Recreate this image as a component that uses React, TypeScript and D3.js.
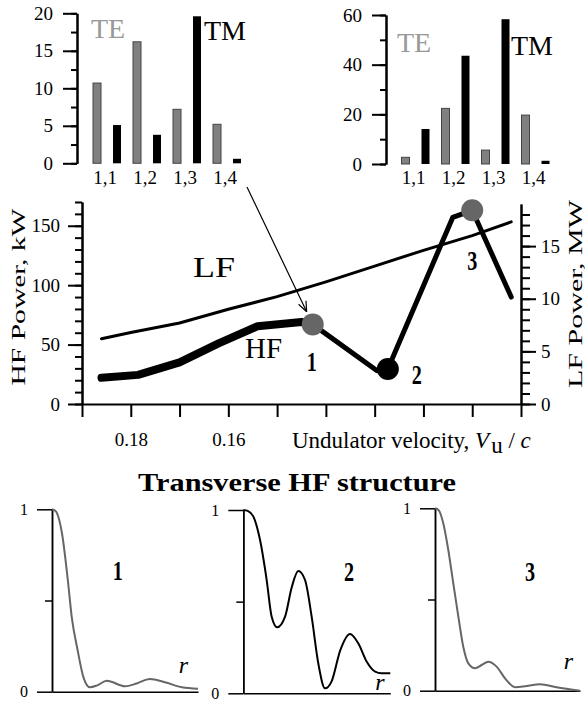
import React, { useEffect, useRef } from 'react'
import * as d3 from 'd3'

const W = 585
const H = 705
const FONT = "'Liberation Serif', 'Times New Roman', serif"
const GREY = '#666'

// mode content of the two marked points (top insets)
const modeCats = ['1,1', '1,2', '1,3', '1,4']
const modeTypes = ['TE', 'TM']
const teLeft = [10.7, 16.2, 7.2, 5.2]
const tmLeft = [5.1, 3.8, 19.6, 0.6]
const teRight = [2.7, 22.4, 5.6, 19.7]
const tmRight = [14.1, 43.6, 58.3, 1.3]

// main chart: power vs undulator velocity
const velTicks = [0.19, 0.18, 0.17, 0.16, 0.15, 0.14, 0.13, 0.12, 0.11, 0.10]
const velLabels = ['0.18', '0.16']
const lfVel = [0.186, 0.18, 0.17, 0.16, 0.15, 0.14, 0.13, 0.12, 0.11, 0.102]
const lfPower = [6.2, 6.8, 7.7, 9.0, 10.2, 11.6, 13.1, 14.6, 16.0, 17.3]
const hfVel = [0.186, 0.1785, 0.17, 0.162, 0.154, 0.145, 0.1427, 0.1295, 0.1273, 0.114, 0.11, 0.102]
const hfPower = [22, 24.5, 35, 51, 65.5, 69, 67, 28, 29.5, 157, 163, 90]
const pointVel = [0.1427, 0.1273, 0.11]
const pointPower = [67, 29.5, 163]
const pointNames = ['1', '2', '3']
const pointColors = [GREY, '#000', GREY]

// transverse profiles (r normalised 0..1)
const prof1R = [0, 0.025, 0.068, 0.11, 0.135, 0.175, 0.215, 0.26, 0.31, 0.375, 0.5, 0.58, 0.67, 0.78, 0.89, 1.0]
const prof1I = [1, 0.99, 0.87, 0.6, 0.41, 0.23, 0.08, 0.024, 0.035, 0.06, 0.03, 0.045, 0.07, 0.05, 0.024, 0.016]
const prof2R = [0, 0.03, 0.068, 0.114, 0.159, 0.193, 0.231, 0.284, 0.33, 0.374, 0.42, 0.465, 0.51, 0.556, 0.6, 0.66, 0.726, 0.782, 0.84, 0.897, 0.94, 1.0]
const prof2I = [1, 0.995, 0.965, 0.836, 0.618, 0.418, 0.36, 0.418, 0.58, 0.667, 0.618, 0.418, 0.164, 0.027, 0.064, 0.236, 0.324, 0.273, 0.172, 0.118, 0.109, 0.109]
const prof3R = [0, 0.025, 0.057, 0.092, 0.126, 0.161, 0.195, 0.23, 0.276, 0.322, 0.368, 0.425, 0.483, 0.552, 0.632, 0.724, 0.839, 1.0]
const prof3I = [1, 0.99, 0.918, 0.77, 0.589, 0.406, 0.241, 0.15, 0.123, 0.141, 0.159, 0.132, 0.068, 0.019, 0.026, 0.035, 0.019, 0]

function styleAxis(g: any, size: number, width: number) {
  g.attr('font-family', FONT).attr('font-size', size)
  g.selectAll('path, line').attr('stroke', '#000').attr('stroke-width', width)
  g.selectAll('text').attr('fill', '#000')
}

function drawInset(svg: any, axisX: number, y0: number, y1: number, max: number, major: number, minor: number,
  te: number[], tm: number[], bandStart: number) {
  const g = svg.append('g')
  const y = d3.scaleLinear().domain([0, max]).range([y0, y1])
  const xb = d3.scaleBand().domain(modeCats).range([bandStart, bandStart + 160])
  const xi = d3.scaleBand().domain(modeTypes).range([0, xb.bandwidth()]).paddingInner(0.6).paddingOuter(0.3)

  g.append('g').attr('transform', `translate(${axisX},0)`)
    .call(d3.axisLeft(y).tickValues(d3.range(0, max + 1e-6, minor)).tickSize(6).tickSizeOuter(0).tickFormat(() => ''))
    .call((a: any) => styleAxis(a, 19, 2))
  g.append('g').attr('transform', `translate(${axisX},0)`)
    .call(d3.axisLeft(y).tickValues(d3.range(0, max + 1e-6, major)).tickSize(14).tickSizeOuter(0).tickPadding(10))
    .call((a: any) => styleAxis(a, 19, 2))

  g.selectAll('rect.te').data(te).join('rect')
    .attr('x', (d: number, i: number) => xb(modeCats[i])! + xi('TE')!)
    .attr('y', (d: number) => y(d))
    .attr('width', xi.bandwidth())
    .attr('height', (d: number) => y(0) - y(d))
    .attr('fill', '#808080').attr('stroke', '#444').attr('stroke-width', 1)
  g.selectAll('rect.tm').data(tm).join('rect')
    .attr('x', (d: number, i: number) => xb(modeCats[i])! + xi('TM')!)
    .attr('y', (d: number) => y(d))
    .attr('width', xi.bandwidth())
    .attr('height', (d: number) => y(0) - y(d))
    .attr('fill', '#000')

  g.selectAll('text.cat').data(modeCats).join('text')
    .attr('x', (c: string) => xb(c)! + xb.bandwidth() / 2 - 2)
    .attr('y', 184)
    .attr('text-anchor', 'middle')
    .attr('font-family', FONT).attr('font-size', 19)
    .text((c: string) => c)
  return xb
}

function drawProfile(svg: any, x0: number, yTop: number, yBot: number, w: number, rs: number[], vals: number[],
  color: string, name: string, namePos: number[], rPos: number[]) {
  const g = svg.append('g')
  const x = d3.scaleLinear().domain([0, 1]).range([x0, x0 + w])
  const y = d3.scaleLinear().domain([0, 1]).range([yBot, yTop])
  g.append('g').attr('transform', `translate(${x0},0)`)
    .call(d3.axisLeft(y).tickValues([0.5]).tickSize(7).tickSizeOuter(0).tickFormat(() => ''))
    .call((a: any) => styleAxis(a, 16, 1.5))
  g.append('g').attr('transform', `translate(${x0},0)`)
    .call(d3.axisLeft(y).tickValues([0, 1]).tickSize(15).tickSizeOuter(0).tickPadding(9).tickFormat(d3.format('d')))
    .call((a: any) => styleAxis(a, 16, 1.5))
  g.append('g').attr('transform', `translate(0,${yBot})`)
    .call(d3.axisBottom(x).tickValues([]).tickSizeOuter(0))
    .call((a: any) => styleAxis(a, 16, 1.5))

  const line = d3.line<number>().x((d, i) => x(rs[i])).y(d => y(d)).curve(d3.curveMonotoneX)
  g.append('path').attr('d', line(vals)).attr('fill', 'none').attr('stroke', color).attr('stroke-width', 2)

  g.append('text')
    .attr('transform', `translate(${x(namePos[0])},${y(namePos[1])}) scale(0.72,1)`)
    .attr('text-anchor', 'middle').attr('font-family', FONT).attr('font-size', 28)
    .attr('font-weight', 'bold').text(name)
  g.append('text')
    .attr('x', x(rPos[0])).attr('y', y(rPos[1]))
    .attr('text-anchor', 'middle').attr('font-family', FONT).attr('font-size', 24)
    .attr('font-style', 'italic').text('r')
}

export default function App() {
  const ref = useRef<SVGSVGElement>(null)

  useEffect(() => {
    const svg = d3.select(ref.current)
    svg.selectAll('*').remove()

    // --- top insets ---
    const xbL = drawInset(svg, 77, 163.3, 13.3, 20, 5, 2.5, teLeft, tmLeft, 87)
    drawInset(svg, 386, 164, 15, 60, 20, 10, teRight, tmRight, 395.5)
    const lbl = (x: number, y: number, t: string, fill: string) =>
      svg.append('text').attr('x', x).attr('y', y).attr('font-family', FONT).attr('font-size', 28).attr('fill', fill).text(t)
    lbl(91, 38, 'TE', '#999')
    lbl(204, 40, 'TM', '#000')
    lbl(397, 52, 'TE', '#999')
    lbl(511, 55, 'TM', '#000')

    // --- main chart ---
    const x = d3.scaleLinear().domain([0.19, 0.10]).range([82, 521])
    const yL = d3.scaleLinear().domain([0, 170]).range([404, 202])
    const yR = d3.scaleLinear().domain([0, 19]).range([404, 204])

    svg.append('g').attr('transform', 'translate(82,0)')
      .call(d3.axisLeft(yL).tickValues(d3.range(0, 171, 10)).tickSize(7).tickSizeOuter(0).tickFormat(() => ''))
      .call((a: any) => styleAxis(a, 19, 2))
    svg.append('g').attr('transform', 'translate(82,0)')
      .call(d3.axisLeft(yL).tickValues([0, 50, 100, 150]).tickSize(14).tickSizeOuter(0).tickPadding(8))
      .call((a: any) => styleAxis(a, 19, 2))

    svg.append('g').attr('transform', 'translate(521,0)')
      .call(d3.axisRight(yR).tickValues(d3.range(0, 19, 1)).tickSize(9).tickSizeOuter(0).tickFormat(() => ''))
      .call((a: any) => styleAxis(a, 19, 2))
    svg.append('g').attr('transform', 'translate(521,0)')
      .call(d3.axisRight(yR).tickValues([0, 5, 10, 15]).tickSize(15).tickSizeOuter(0).tickPadding(5))
      .call((a: any) => styleAxis(a, 19, 2))

    svg.append('g').attr('transform', 'translate(0,404)')
      .call(d3.axisBottom(x).tickValues(velTicks).tickSize(13).tickSizeOuter(0).tickPadding(16)
        .tickFormat((d: any) => { const s = d3.format('.2f')(d); return velLabels.includes(s) ? s : '' }))
      .call((a: any) => styleAxis(a, 19, 2))

    // LF line (right axis, MW)
    const lfLine = d3.line<number>().x((d, i) => x(lfVel[i])).y(d => yR(d))
    svg.append('path').attr('d', lfLine(lfPower)).attr('fill', 'none').attr('stroke', '#000')
      .attr('stroke-width', 3).attr('stroke-linecap', 'round')

    // HF line (left axis, kW) – thicker up to point 1
    const hfLine = d3.line<number>().x(d => x(hfVel[d])).y(d => yL(hfPower[d]))
    const idx = d3.range(hfVel.length)
    const split = hfVel.indexOf(pointVel[0])
    svg.append('path').attr('d', hfLine(idx.slice(0, split + 1))).attr('fill', 'none').attr('stroke', '#000')
      .attr('stroke-width', 8).attr('stroke-linecap', 'round').attr('stroke-linejoin', 'round')
    svg.append('path').attr('d', hfLine(idx.slice(split))).attr('fill', 'none').attr('stroke', '#000')
      .attr('stroke-width', 5).attr('stroke-linecap', 'round').attr('stroke-linejoin', 'round')

    svg.selectAll('circle.pt').data(pointVel).join('circle')
      .attr('cx', (d: number) => x(d))
      .attr('cy', (d: number, i: number) => yL(pointPower[i]))
      .attr('r', 11)
      .attr('fill', (d: number, i: number) => pointColors[i])

    const nameOff = [[-1, 47], [29, 15], [0, 60]]
    svg.selectAll('text.pt').data(pointNames).join('text')
      .attr('transform', (d: string, i: number) =>
        `translate(${x(pointVel[i]) + nameOff[i][0]},${yL(pointPower[i]) + nameOff[i][1]}) scale(0.72,1)`)
      .attr('text-anchor', 'middle').attr('font-family', FONT).attr('font-size', 28).attr('font-weight', 'bold')
      .text((d: string) => d)

    svg.append('text').attr('x', 193).attr('y', 277).attr('font-family', FONT).attr('font-size', 29)
      .attr('textLength', 42).attr('lengthAdjust', 'spacingAndGlyphs').text('LF')
    svg.append('text').attr('x', 245).attr('y', 358).attr('font-family', FONT).attr('font-size', 29)
      .attr('textLength', 37).attr('lengthAdjust', 'spacingAndGlyphs').text('HF')

    // arrow from the left inset to point 1
    const sx = xbL('1,4')! + xbL.bandwidth()
    const sy = 187
    const cx = x(pointVel[0]), cy = yL(pointPower[0])
    const dx = sx - cx, dy = sy - cy, len = Math.hypot(dx, dy)
    const tx = cx + dx / len * 14, ty = cy + dy / len * 14
    const ang = Math.atan2(ty - sy, tx - sx)
    svg.append('line').attr('x1', sx).attr('y1', sy).attr('x2', tx).attr('y2', ty).attr('stroke', '#000').attr('stroke-width', 1.2)
    for (const s of [-1, 1]) {
      const a = ang + Math.PI + s * 0.38
      svg.append('line').attr('x1', tx).attr('y1', ty)
        .attr('x2', tx + Math.cos(a) * 11).attr('y2', ty + Math.sin(a) * 11)
        .attr('stroke', '#000').attr('stroke-width', 1.2)
    }

    // axis titles
    const xt = svg.append('text').attr('x', 292).attr('y', 448).attr('font-family', FONT).attr('font-size', 23)
    xt.append('tspan').text('Undulator velocity, ')
    xt.append('tspan').attr('font-style', 'italic').text('V')
    xt.append('tspan').attr('dy', 5).attr('dx', 2).text('u')
    xt.append('tspan').attr('dy', -5).text(' / ')
    xt.append('tspan').attr('font-style', 'italic').text('c')

    svg.append('text').attr('transform', 'translate(25,297) rotate(-90)')
      .attr('text-anchor', 'middle').attr('font-family', FONT).attr('font-size', 19).attr('fill', '#000')
      .attr('textLength', 177).attr('lengthAdjust', 'spacingAndGlyphs').text('HF Power,  kW')
    svg.append('text').attr('transform', 'translate(582,294) rotate(-90)')
      .attr('text-anchor', 'middle').attr('font-family', FONT).attr('font-size', 19).attr('fill', '#000')
      .attr('textLength', 188).attr('lengthAdjust', 'spacingAndGlyphs').text('LF Power,  MW')

    // --- transverse structure ---
    svg.append('text').attr('x', 297).attr('y', 491).attr('text-anchor', 'middle')
      .attr('font-family', FONT).attr('font-size', 26).attr('font-weight', 'bold')
      .attr('textLength', 318).attr('lengthAdjust', 'spacingAndGlyphs').text('Transverse HF structure')

    drawProfile(svg, 52, 509.3, 691.7, 146, prof1R, prof1I, GREY, '1', [0.45, 0.61], [0.9, 0.1])
    drawProfile(svg, 243.3, 510, 693.3, 147, prof2R, prof2I, '#000', '2', [0.72, 0.61], [0.93, 0.02])
    drawProfile(svg, 435, 508.3, 690.7, 145, prof3R, prof3I, GREY, '3', [0.655, 0.6], [0.92, 0.12])
  }, [])

  return (
    <svg ref={ref} width={W} height={H}
      style={{ position: 'absolute', left: 0, top: 0, background: '#fff' }} />
  )
}
